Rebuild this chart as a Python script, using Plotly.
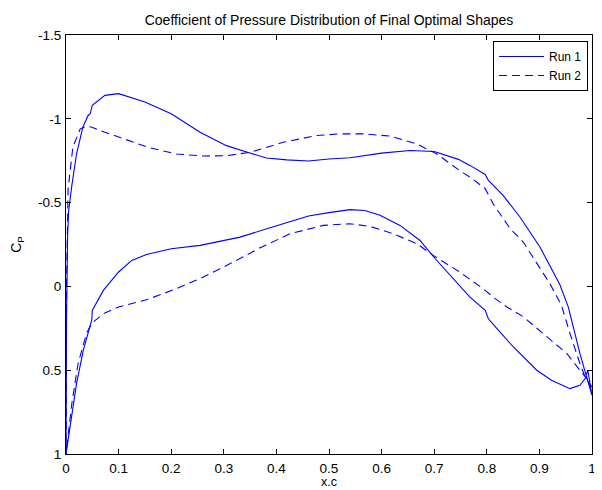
import plotly.graph_objects as go

# Run 1 (solid) - upper surface, leading edge -> trailing edge
x1_upper = [0.0, 0.001, 0.003, 0.005, 0.011, 0.02, 0.032, 0.042, 0.046, 0.05, 0.074, 0.1, 0.15, 0.2,
            0.255, 0.305, 0.345, 0.381, 0.42, 0.461, 0.5, 0.54, 0.6, 0.654, 0.7, 0.746, 0.768, 0.797,
            0.803, 0.831, 0.863, 0.901, 0.92, 0.939, 0.955, 0.965, 0.977, 0.987, 0.993, 1.0]
cp1_upper = [1.0, 0.2, -0.3, -0.45, -0.6, -0.79, -0.95, -1.02, -1.03, -1.08, -1.14, -1.15, -1.10, -1.03,
             -0.92, -0.84, -0.80, -0.766, -0.755, -0.748, -0.76, -0.768, -0.795, -0.811, -0.805, -0.758,
             -0.722, -0.668, -0.632, -0.543, -0.414, -0.235, -0.12, -0.01, 0.124, 0.24, 0.40, 0.51, 0.58, 0.65]
# Run 1 - lower surface, leading edge -> trailing edge
x1_lower = [0.0, 0.01, 0.02, 0.033, 0.04, 0.046, 0.049, 0.05, 0.071, 0.1, 0.125, 0.153, 0.2, 0.255,
            0.331, 0.388, 0.461, 0.5, 0.54, 0.568, 0.597, 0.635, 0.673, 0.702, 0.736, 0.768, 0.797,
            0.803, 0.819, 0.85, 0.895, 0.923, 0.958, 0.977, 0.987, 0.992, 1.0]
cp1_lower = [1.0, 0.78, 0.58, 0.38, 0.30, 0.22, 0.2, 0.143, 0.024, -0.086, -0.155, -0.19, -0.225, -0.245,
             -0.294, -0.35, -0.42, -0.44, -0.458, -0.453, -0.424, -0.364, -0.274, -0.165, -0.046, 0.064,
             0.143, 0.193, 0.25, 0.36, 0.50, 0.56, 0.61, 0.59, 0.55, 0.5, 0.65]

# Run 2 (dashed) - upper surface
x2_upper = [0.0, 0.001, 0.002, 0.004, 0.013, 0.027, 0.039, 0.049, 0.074, 0.1, 0.156, 0.21, 0.261, 0.305,
            0.35, 0.413, 0.476, 0.52, 0.565, 0.616, 0.667, 0.705, 0.749, 0.768, 0.797, 0.812, 0.844,
            0.869, 0.895, 0.92, 0.942, 0.958, 0.977, 0.987, 0.995, 1.0]
cp2_upper = [1.0, 0.0, -0.3, -0.58, -0.83, -0.94, -0.955, -0.95, -0.92, -0.89, -0.83, -0.79, -0.778, -0.78,
             -0.80, -0.86, -0.90, -0.91, -0.91, -0.897, -0.85, -0.79, -0.69, -0.652, -0.583, -0.493, -0.346,
             -0.266, -0.135, -0.016, 0.113, 0.28, 0.46, 0.54, 0.58, 0.6]
# Run 2 - lower surface
x2_lower = [0.0, 0.011, 0.023, 0.039, 0.049, 0.071, 0.1, 0.153, 0.21, 0.261, 0.318, 0.369, 0.426, 0.489,
            0.54, 0.578, 0.622, 0.667, 0.698, 0.749, 0.793, 0.816, 0.838, 0.869, 0.914, 0.952, 0.977,
            0.99, 1.0]
cp2_lower = [1.0, 0.70, 0.46, 0.28, 0.22, 0.163, 0.123, 0.08, 0.014, -0.056, -0.145, -0.23, -0.314, -0.364,
             -0.374, -0.358, -0.314, -0.255, -0.185, -0.085, 0.014, 0.073, 0.123, 0.18, 0.30, 0.40, 0.50,
             0.55, 0.6]

x_ticks = [0, 0.1, 0.2, 0.3, 0.4, 0.5, 0.6, 0.7, 0.8, 0.9, 1]
x_ticktext = ["0", "0.1", "0.2", "0.3", "0.4", "0.5", "0.6", "0.7", "0.8", "0.9", "1"]
y_ticks = [-1.5, -1, -0.5, 0, 0.5, 1]
y_ticktext = ["-1.5", "-1", "-0.5", "0", "0.5", "1"]

BLUE = "rgb(0,0,255)"
FONT = "Liberation Sans, Arial, sans-serif"

fig = go.Figure()
fig.add_trace(go.Scatter(
    x=x1_upper[::-1] + x1_lower[1:], y=cp1_upper[::-1] + cp1_lower[1:],
    mode="lines", name="Run 1", line=dict(color=BLUE, width=1.1)))
fig.add_trace(go.Scatter(
    x=x2_upper[::-1] + x2_lower[1:], y=cp2_upper[::-1] + cp2_lower[1:],
    mode="lines", name="Run 2", line=dict(color=BLUE, width=1.1, dash="8px,5px")))

axis_common = dict(showline=True, linecolor="black", linewidth=1, mirror="ticks",
                   ticks="inside", ticklen=5, tickcolor="black", showgrid=False,
                   zeroline=False, automargin=False,
                   tickfont=dict(family=FONT, size=13.5, color="black"))

# page body has an 8px margin, so the figure is sized/offset to land the axes box at the reference position
fig.update_layout(
    width=594, height=482,
    margin=dict(l=58, r=10, t=27, b=36),
    paper_bgcolor="white", plot_bgcolor="white",
    font=dict(family=FONT, size=13.5, color="black"),
    title=dict(text="Coefficient of Pressure Distribution of Final Optimal Shapes",
               x=0.5, xanchor="center", xref="paper", y=1 - 12 / 482, yanchor="middle",
               font=dict(family=FONT, size=14, color="black")),
    xaxis=dict(range=[0, 1], tickvals=x_ticks, ticktext=x_ticktext, ticklabelstandoff=2,
               **axis_common),
    yaxis=dict(range=[1, -1.5], tickvals=y_ticks, ticktext=y_ticktext, ticklabelstandoff=1,
               title=dict(text="C<sub>P</sub>", standoff=14, font=dict(family=FONT, size=14)), **axis_common),
    legend=dict(x=0.9924, y=0.9857, xanchor="right", yanchor="top",
                bordercolor="black", borderwidth=1, bgcolor="white",
                font=dict(family=FONT, size=12, color="black"),
                tracegroupgap=0, itemwidth=45),
    showlegend=True,
    annotations=[dict(text="x.c", xref="paper", yref="paper", x=0.5, y=-0.0668,
                      xanchor="center", yanchor="middle", showarrow=False,
                      font=dict(family=FONT, size=12.5, color="black"))],
)

fig.write_html("out.html")
